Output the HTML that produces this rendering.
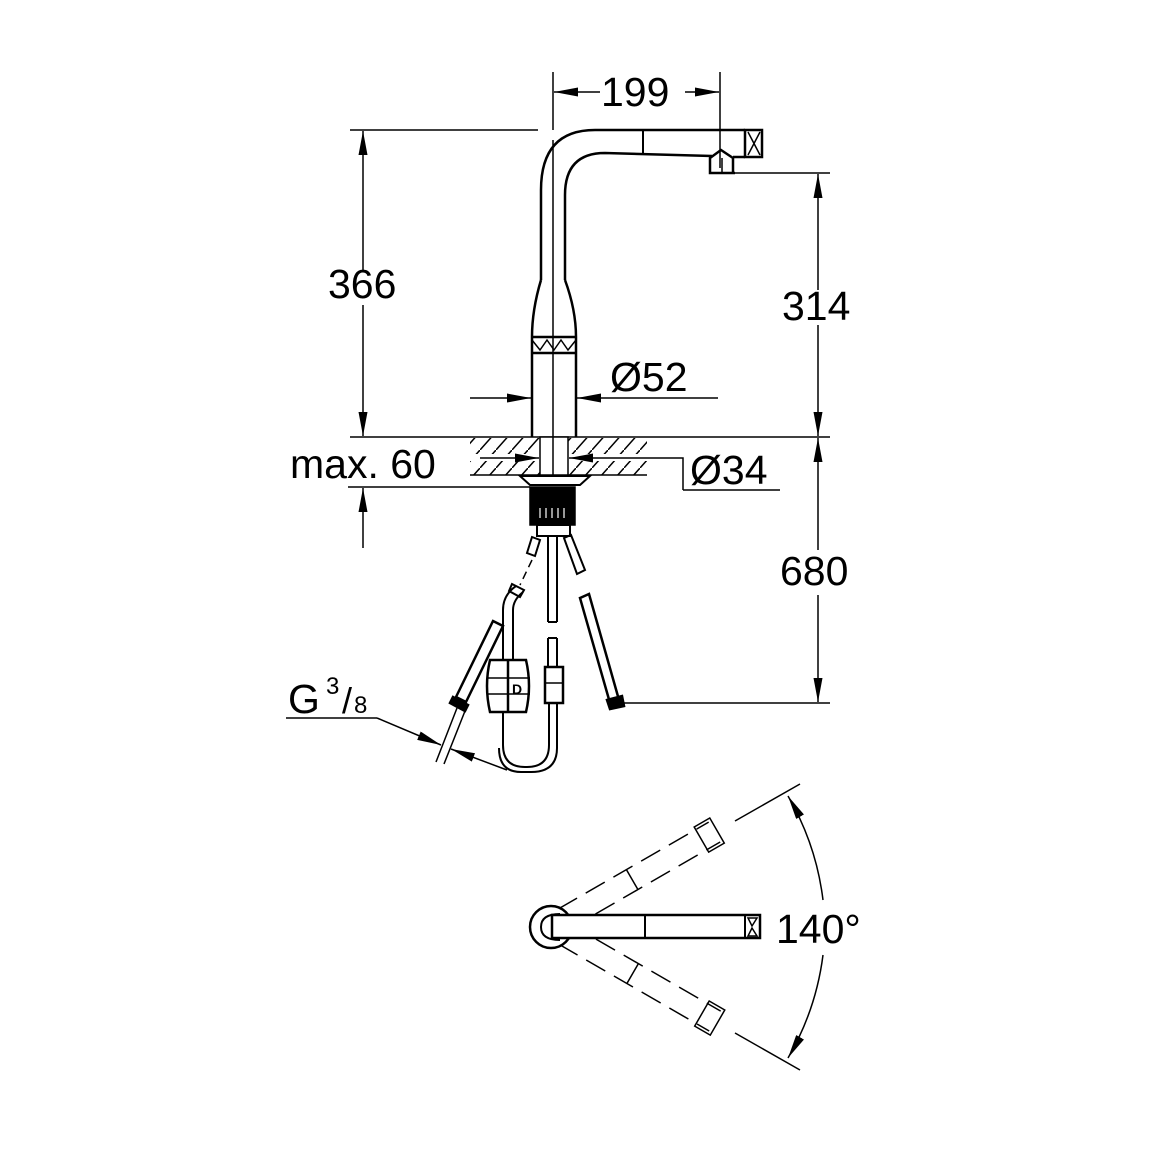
<!DOCTYPE html>
<html><head><meta charset="utf-8"><style>
html,body{margin:0;padding:0;background:#fff}
svg{display:block}
text{font-family:"Liberation Sans",Arial,sans-serif;fill:#000}
</style></head><body>
<svg width="1150" height="1150" viewBox="0 0 1150 1150" xmlns="http://www.w3.org/2000/svg">
<defs>
<marker id="a" viewBox="0 0 24 9" refX="24" refY="4.5" markerWidth="24" markerHeight="9" markerUnits="userSpaceOnUse" orient="auto"><path d="M0,0 L24,4.5 L0,9 z" fill="#000"/></marker>
<pattern id="h" width="16" height="18" patternUnits="userSpaceOnUse"><path d="M0,18 L16,0" stroke="#000" stroke-width="1.5" fill="none"/></pattern>
</defs>
<g stroke="#000" fill="none" stroke-width="1.5">
<!-- 199 -->
<line x1="553" y1="72" x2="553" y2="130"/>
<line x1="720" y1="72" x2="720" y2="168"/>
<line x1="600" y1="92" x2="554" y2="92" marker-end="url(#a)"/>
<line x1="685" y1="92" x2="719" y2="92" marker-end="url(#a)"/>
<!-- 366 -->
<line x1="350" y1="130" x2="538" y2="130"/>
<line x1="363" y1="270" x2="363" y2="131" marker-end="url(#a)"/>
<line x1="363" y1="305" x2="363" y2="436" marker-end="url(#a)"/>
<!-- 314 -->
<line x1="735" y1="173" x2="830" y2="173"/>
<line x1="818" y1="290" x2="818" y2="174" marker-end="url(#a)"/>
<line x1="818" y1="325" x2="818" y2="436" marker-end="url(#a)"/>
<!-- 680 -->
<line x1="818" y1="550" x2="818" y2="438" marker-end="url(#a)"/>
<line x1="818" y1="595" x2="818" y2="702" marker-end="url(#a)"/>
<line x1="620" y1="703" x2="830" y2="703"/>
<!-- countertop -->
<line x1="350" y1="437" x2="830" y2="437"/>
<rect x="470" y="438" width="177" height="16" fill="url(#h)" stroke="none"/>
<rect x="470" y="461" width="177" height="14" fill="url(#h)" stroke="none"/>
<line x1="470" y1="475" x2="647" y2="475"/>
<rect x="540" y="437" width="28" height="38" fill="#fff"/>
<line x1="553" y1="437" x2="553" y2="475"/>
<!-- max60 -->
<line x1="348" y1="487" x2="530" y2="487"/>
<line x1="363" y1="548" x2="363" y2="488" marker-end="url(#a)"/>
<!-- Ø34 -->
<line x1="480" y1="458" x2="539" y2="458" marker-end="url(#a)"/>
<polyline points="683,490 683,458 600,458"/>
<line x1="600" y1="458" x2="569" y2="458" marker-end="url(#a)"/>
<line x1="683" y1="490" x2="780" y2="490"/>
<!-- Ø52 -->
<line x1="470" y1="398" x2="531" y2="398" marker-end="url(#a)"/>
<line x1="718" y1="398" x2="577" y2="398" marker-end="url(#a)"/>
<!-- faucet -->
<g stroke-width="2.5">
<path d="M595,130 L745,130 M541,280 L541,190 Q541,130 595,130"/>
<path d="M565,280 L565,195 Q565,153 605,153 L712,156"/>
<path d="M541,280 Q532,310 532,337 L532,437 M565,280 Q576,310 576,337 L576,437"/>
<line x1="532" y1="337" x2="576" y2="337"/>
<line x1="532" y1="353" x2="576" y2="353"/>
<rect x="745" y="130" width="17" height="27"/>
<path d="M710,173 L710,158 L721,150 L733,158 L733,173 Z M710,173 L735,173"/>
<line x1="733" y1="157" x2="745" y2="157"/>
</g>
<line x1="553" y1="140" x2="553" y2="437" stroke-width="1.5"/>
<line x1="643" y1="130" x2="643" y2="153" stroke-width="2"/>
<path d="M722,158 L722,173" />
<path d="M532,340 L540,350 L547,340 L554,350 L561,340 L568,350 L576,340" stroke-width="1.5"/>
<path d="M748,132 L760,155 M760,132 L748,155" stroke-width="1.5"/>
<!-- nut -->
<path d="M520,476 L590,476 L580,485 L530,485 Z" stroke-width="2"/>
<rect x="530" y="487" width="45" height="38" fill="#000"/>
<g stroke="#fff" stroke-width="1.2"><line x1="540" y1="508" x2="540" y2="518"/><line x1="546" y1="508" x2="546" y2="518"/><line x1="552" y1="508" x2="552" y2="518"/><line x1="558" y1="508" x2="558" y2="518"/><line x1="564" y1="508" x2="564" y2="518"/></g>
<rect x="537" y="525" width="33" height="11" stroke-width="2"/>
<!-- stubs -->
<path d="M532,537 L540,540 L535,556 L527,553 Z" stroke-width="2"/>
<path d="M564,538 L571,535 L585,570 L577,574 Z" stroke-width="2"/>
<line x1="532" y1="560" x2="520" y2="585" stroke-dasharray="8,5"/>
<!-- center hose -->
<path d="M548,537 L548,622 M557,537 L557,622 M548,622 L557,622" stroke-width="2"/>
<path d="M548,638 L548,667 M557,638 L557,667 M548,638 L557,638" stroke-width="2"/>
<rect x="545" y="667" width="18" height="36" stroke-width="2.5"/>
<line x1="545" y1="683" x2="563" y2="683"/>
<!-- U hose -->
<path d="M549,703 L549,745 Q549,767 527,767 L525,767 Q503,767 503,745 L503,610 Q503,595 516,586" stroke-width="2"/>
<path d="M557,703 L557,748 Q557,772 531,772 L521,772 Q499,772 499,748" stroke-width="2"/>
<path d="M513,700 L513,610 Q513,600 523,592" stroke-width="2"/>
<path d="M512,584 L524,590 L520,597 L509,591 Z" stroke-width="2"/>
<!-- weight -->
<path d="M490,660 L526,660 Q532,686 526,712 L490,712 Q484,686 490,660 Z" fill="#fff" stroke-width="2.5"/>
<line x1="508" y1="660" x2="508" y2="712" stroke-width="2.5"/>
<line x1="487" y1="678" x2="530" y2="678"/><line x1="487" y1="694" x2="530" y2="694"/>
<text x="512" y="694" font-size="14" font-weight="bold" stroke="none">D</text>
<!-- left supply -->
<path d="M493,621 L503,626 L466,702 L456,697 Z" stroke-width="2.5"/>
<path d="M453,697 L468,705 L465,711 L450,703 Z" stroke-width="2.5" fill="#000"/>
<line x1="457" y1="708" x2="436" y2="762"/><line x1="465" y1="711" x2="444" y2="764"/>
<!-- right supply -->
<path d="M580,598 L589,594 L619,700 L610,703 Z" stroke-width="2.5"/>
<path d="M607,700 L622,696 L624,706 L610,709 Z" stroke-width="2.5" fill="#000"/>
<!-- G3/8 -->
<polyline points="286,718 377,718"/>
<line x1="377" y1="718" x2="441" y2="745" marker-end="url(#a)"/>
<line x1="507" y1="770" x2="451" y2="749" marker-end="url(#a)"/>
<!-- top view -->
<g stroke-dasharray="22,10" stroke-width="1.5">
<g transform="rotate(-30 551 927)"><line x1="566" y1="915" x2="740" y2="915"/><line x1="596" y1="938" x2="740" y2="938"/><line x1="645" y1="915" x2="645" y2="938" stroke-dasharray="none"/><rect x="725" y="912" width="18" height="29" stroke-dasharray="none"/></g>
<g transform="rotate(30 551 927)"><line x1="596" y1="915" x2="740" y2="915"/><line x1="566" y1="938" x2="740" y2="938"/><line x1="645" y1="915" x2="645" y2="938" stroke-dasharray="none"/><rect x="725" y="912" width="18" height="29" stroke-dasharray="none"/></g>
</g>
<circle cx="551" cy="927" r="21" stroke-width="2.5" fill="#fff"/>
<path d="M560,914 Q541,914 541,927 Q541,940 560,940" stroke-width="2"/>
<rect x="552" y="915" width="208" height="23" fill="#fff" stroke-width="2.5"/>
<line x1="645" y1="915" x2="645" y2="938" stroke-width="2"/>
<line x1="745" y1="915" x2="745" y2="938" stroke-width="2"/>
<path d="M748,918 L757,918 L752,926 Z M748,936 L757,936 L752,928 Z" stroke-width="1.5"/>
<line x1="735" y1="821" x2="800" y2="784"/>
<line x1="735" y1="1033" x2="800" y2="1070"/>
<path d="M823,900 A272,272 0 0 0 788,796" marker-end="url(#a)"/>
<path d="M823,955 A272,272 0 0 1 788,1058" marker-end="url(#a)"/>
</g>
<g stroke="none" font-size="41">
<text x="601" y="106">199</text>
<text x="328" y="298">366</text>
<text x="782" y="320">314</text>
<text x="780" y="585">680</text>
<text x="610" y="391">Ø52</text>
<text x="690" y="484">Ø34</text>
<text x="290" y="478">max. 60</text>
<text x="288" y="713">G</text>
<text x="326" y="694" font-size="24">3</text>
<text x="342" y="713" font-size="36">/</text>
<text x="354" y="713" font-size="24">8</text>
<text x="776" y="943">140°</text>
</g>
</svg>
</body></html>
